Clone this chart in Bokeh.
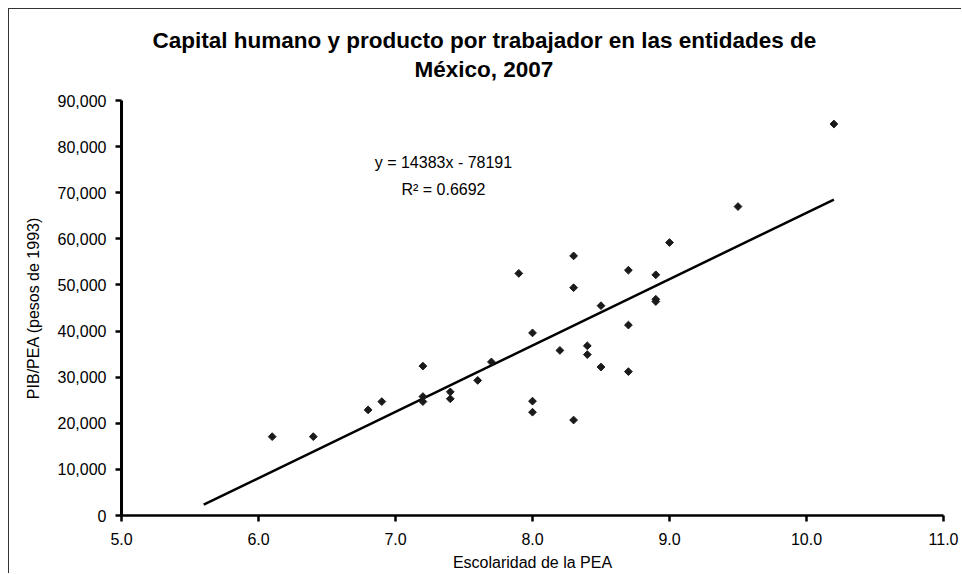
from bokeh.plotting import figure
from bokeh.models import FixedTicker, NumeralTickFormatter, Label, Title, Range1d
from bokeh.embed import file_html
from bokeh.resources import INLINE

# ---- data ----
escolaridad = [6.1, 6.4, 6.8, 6.9, 7.2, 7.2, 7.2, 7.4, 7.4, 7.6, 7.7, 7.9,
               8.0, 8.0, 8.0, 8.2, 8.3, 8.3, 8.3, 8.4, 8.4, 8.5, 8.5,
               8.7, 8.7, 8.7, 8.9, 8.9, 8.9, 9.0, 9.5, 10.2]
pib_pea = [17100, 17100, 22900, 24700, 32400, 25800, 24700, 26800, 25300, 29300, 33300, 52500,
           39600, 24800, 22400, 35800, 56300, 49400, 20700, 36800, 34900, 45500, 32200,
           53200, 41300, 31200, 52200, 46900, 46400, 59200, 67000, 84900]

pendiente = 14383
intercepto = -78191
r_cuadrada = 0.6692
tendencia_x = [5.6, 10.2]
tendencia_y = [pendiente * x + intercepto for x in tendencia_x]

x_ticks = [5, 6, 7, 8, 9, 10, 11]
y_ticks = [0, 10000, 20000, 30000, 40000, 50000, 60000, 70000, 80000, 90000]

titulo_1 = "Capital humano y producto por trabajador en las entidades de"
titulo_2 = "México, 2007"
eje_x = "Escolaridad de la PEA"
eje_y = "PIB/PEA (pesos de 1993)"

FONT = "Liberation Sans"

p = figure(width=953, height=565, output_backend="svg", toolbar_location=None,
           x_range=Range1d(5, 11), y_range=Range1d(0, 90000),
           min_border_left=112, min_border_right=19, min_border_top=91, min_border_bottom=59,
           background_fill_color="white", border_fill_color="white")
p.styles = {"margin-left": "8px", "margin-top": "8px",
            "border-left": "1px solid #333333", "border-top": "1px solid #333333"}

# spacer between the plot area and the two title lines
p.add_layout(Title(text=" ", align="left", standoff=15, text_font=FONT,
                   text_font_size="1px"), "above")
p.add_layout(Title(text=titulo_2, align="left", offset=293, standoff=2, text_font=FONT,
                   text_font_size="22.5px", text_font_style="bold", text_color="black"), "above")
p.add_layout(Title(text=titulo_1, align="left", offset=31, standoff=2, text_font=FONT,
                   text_font_size="22.5px", text_font_style="bold", text_color="black"), "above")

p.grid.visible = False
p.outline_line_color = None

for ax in (p.xaxis[0], p.yaxis[0]):
    ax.axis_line_color = "black"
    ax.major_tick_line_width = 2.5
    ax.major_tick_line_color = "black"
    ax.major_tick_in = 0
    ax.major_tick_out = 6
    ax.minor_tick_line_color = None
    ax.major_label_text_font = FONT
    ax.major_label_text_font_size = "16px"
    ax.major_label_text_color = "black"
    ax.axis_label_text_font = FONT
    ax.axis_label_text_font_size = "16px"
    ax.axis_label_text_font_style = "normal"
    ax.axis_label_text_color = "black"

p.xaxis[0].axis_line_width = 2.5
p.xaxis[0].ticker = FixedTicker(ticks=x_ticks)
p.xaxis[0].formatter = NumeralTickFormatter(format="0.0")
p.xaxis[0].axis_label = eje_x
p.xaxis[0].major_label_standoff = 11
p.xaxis[0].axis_label_standoff = 6

p.yaxis[0].axis_line_width = 3
p.yaxis[0].ticker = FixedTicker(ticks=y_ticks)
p.yaxis[0].formatter = NumeralTickFormatter(format="0,0")
p.yaxis[0].axis_label = eje_y
p.yaxis[0].major_label_standoff = 9
p.yaxis[0].axis_label_standoff = 13

p.line(tendencia_x, tendencia_y, line_width=2.5, line_color="black")
p.scatter(escolaridad, pib_pea, marker="square", angle=0.785398, size=5.5,
          fill_color="#1a1a1a", line_color="#1a1a1a")

p.add_layout(Label(x=7.35, y=76500, text=f"y = {pendiente}x - {abs(intercepto)}",
                   text_align="center", text_baseline="middle", text_font=FONT,
                   text_font_size="16px", text_color="black"))
p.add_layout(Label(x=7.35, y=70600, text=f"R² = {r_cuadrada}",
                   text_align="center", text_baseline="middle", text_font=FONT,
                   text_font_size="16px", text_color="black"))

open("out.html", "w").write(file_html(p, INLINE))
